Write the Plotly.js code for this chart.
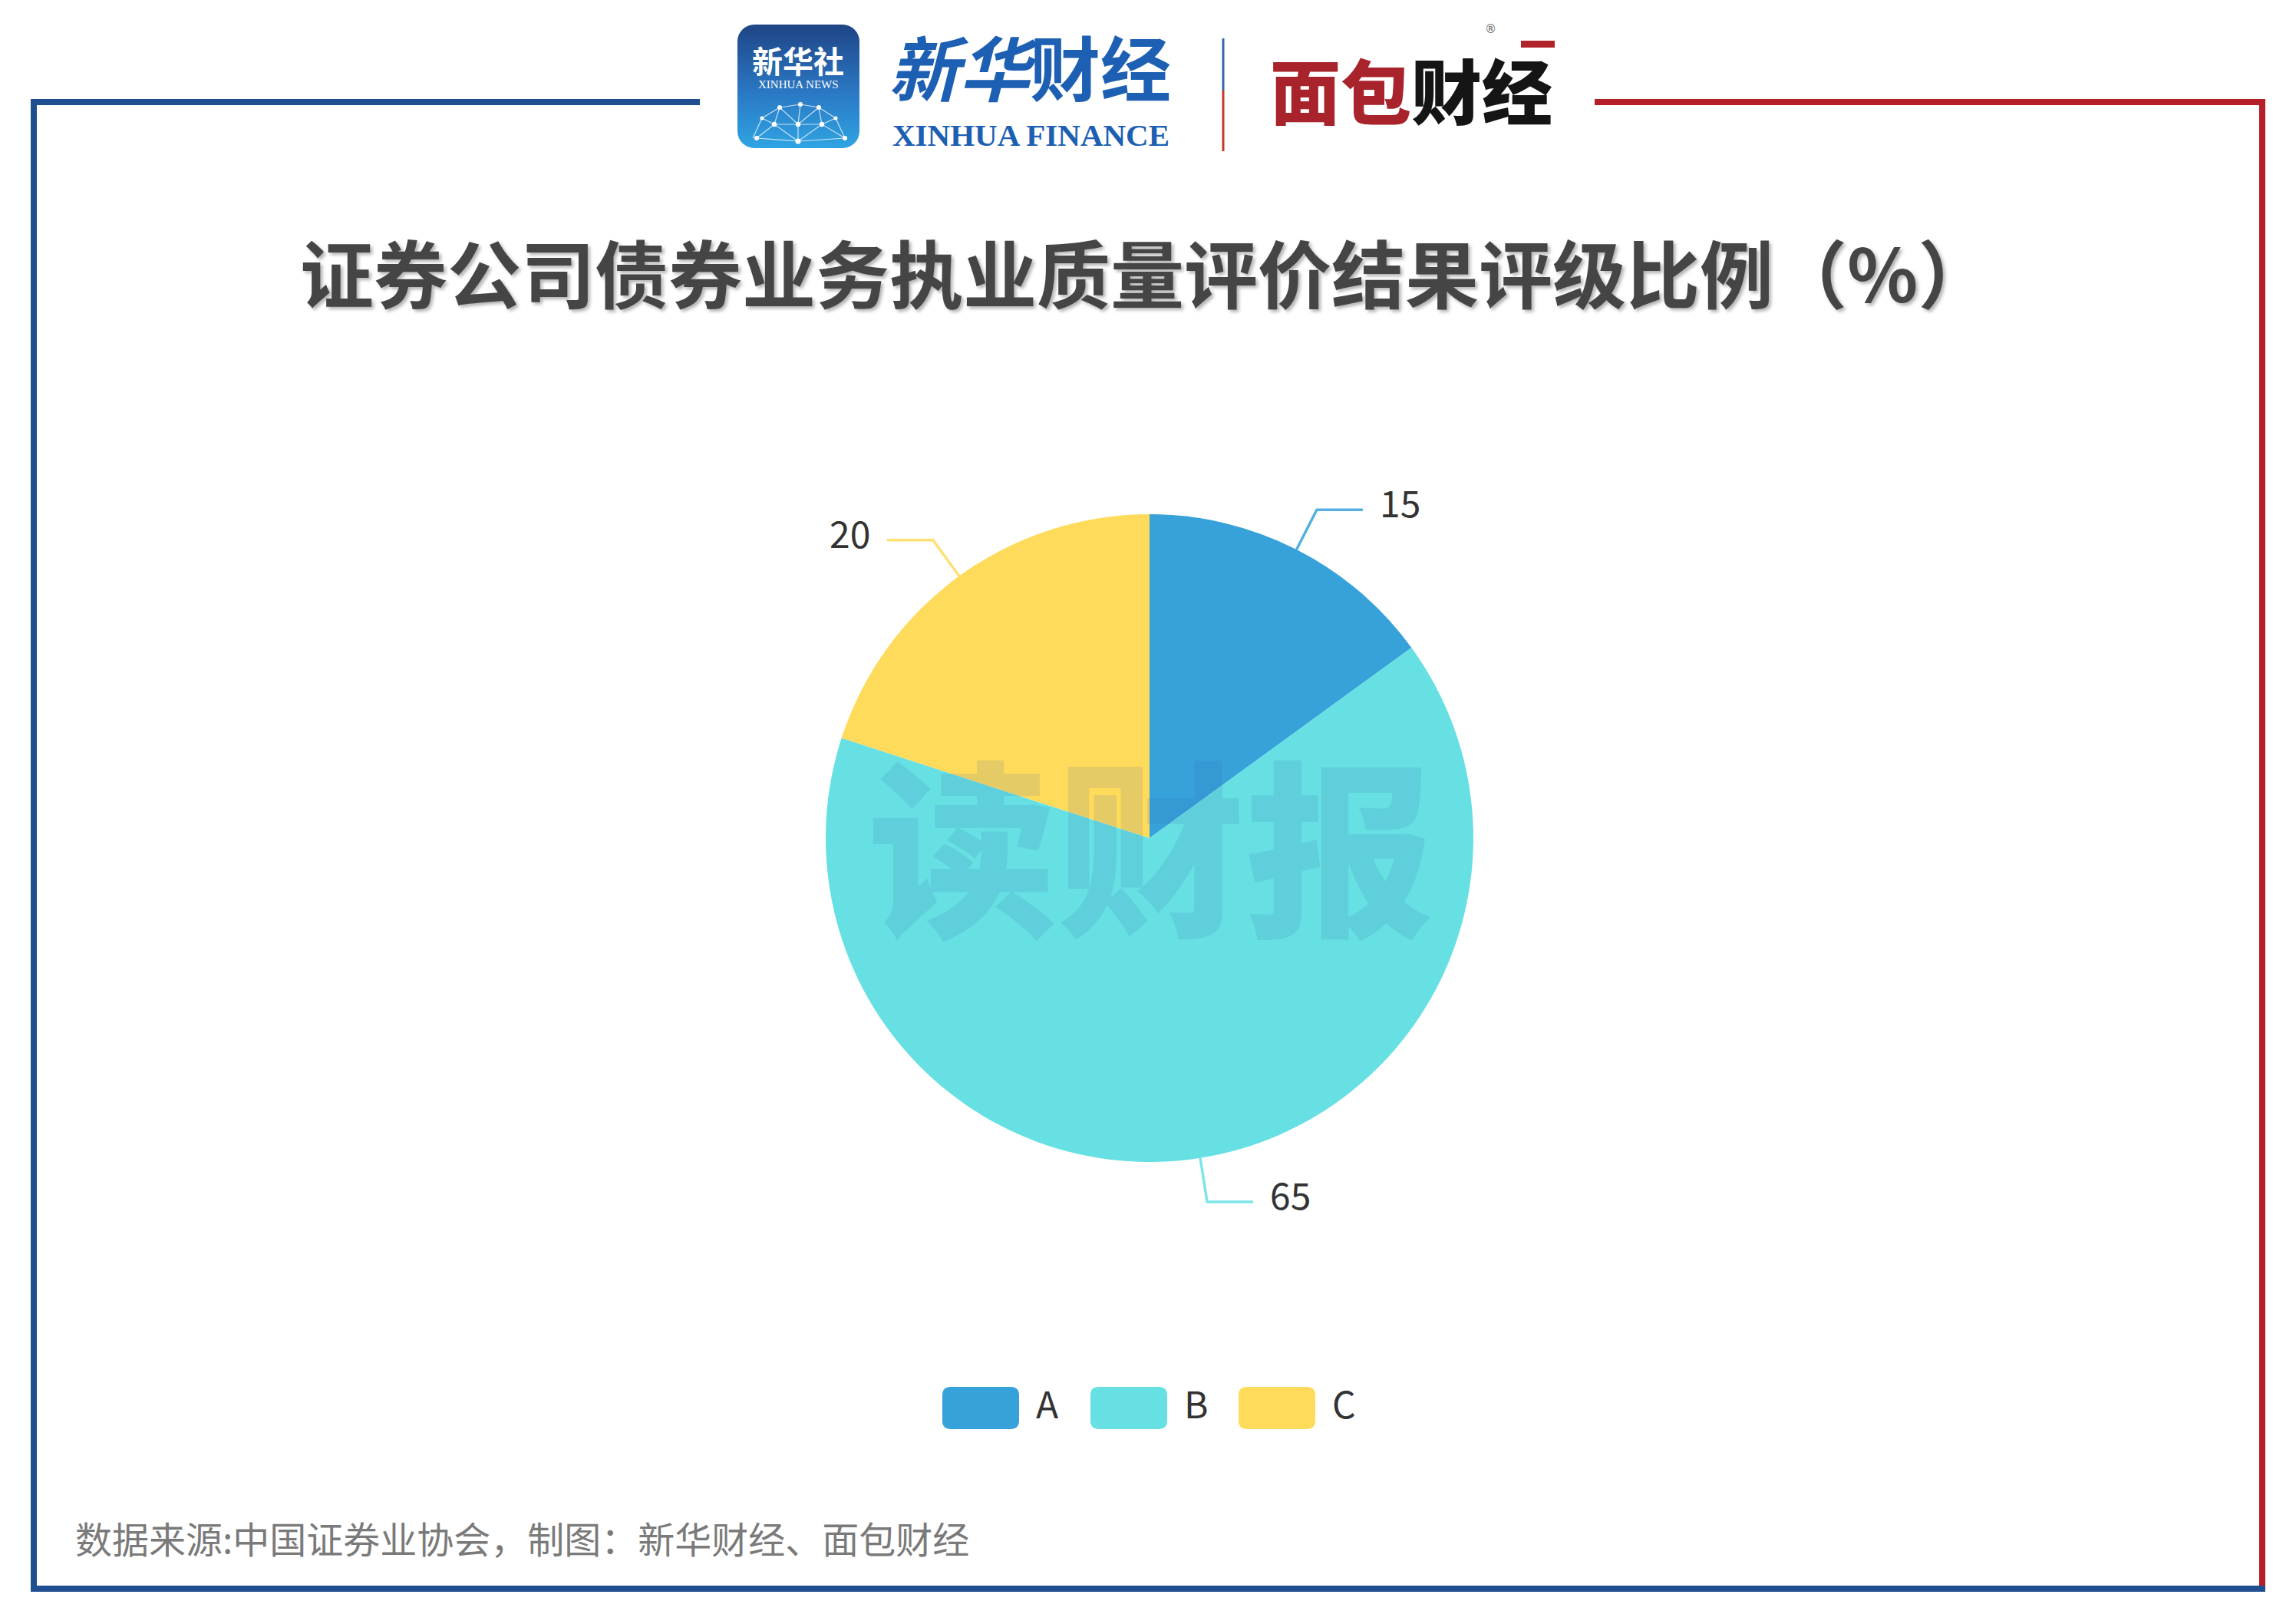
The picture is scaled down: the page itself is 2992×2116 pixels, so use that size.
<!DOCTYPE html>
<html><head><meta charset="utf-8">
<script src="https://cdn.plot.ly/plotly-3.0.1.min.js"></script>
<style>html,body{margin:0;padding:0;background:#fff}#chart{width:2992px;height:2116px}</style>
</head><body><div id="chart"></div>
<script>
// ---- data ----
const categories = ['A', 'B', 'C'];
const values = [15, 65, 20];
const valueLabels = ['15', '65', '20'];
const colors = ['#37A2DA', '#67E0E3', '#FFDB5C'];
const titleText = '证券公司债券业务执业质量评价结果评级比例（%）';
const sourceText = '数据来源:中国证券业协会，制图：新华财经、面包财经';
const watermarkText = '读财报';

// ---- layout geometry (pixels) ----
const W = 2992, H = 2116;
const CX = 1498, CY = 1092, R = 422;
const L1 = 58, L2 = 60, GAP = 20;
const BLUE = '#1f4f91', RED = '#b41f28';
const CJK = '"Noto Sans CJK SC", "Noto Sans", sans-serif';

const total = values.reduce((a, b) => a + b, 0);

const traces = [];
traces.push({
  type: 'pie',
  labels: categories,
  values: values,
  sort: false,
  direction: 'clockwise',
  rotation: 0,
  textposition: 'none',
  textinfo: 'none',
  hoverinfo: 'skip',
  showlegend: false,
  marker: { colors: colors, line: { width: 0 } },
  domain: {
    x: [(CX - R) / W, (CX + R) / W],
    y: [(H - CY - R) / H, (H - CY + R) / H]
  }
});

const annotations = [];
const shapes = [];

// leader lines + value labels, derived from data
let cum = 0;
values.forEach((v, i) => {
  const th = 2 * Math.PI * (cum + v / 2) / total;
  cum += v;
  const sx = Math.sin(th), cy = -Math.cos(th);
  const p0 = [CX + R * sx, CY + R * cy];
  const p1 = [CX + (R + L1) * sx, CY + (R + L1) * cy];
  const s = sx >= 0 ? 1 : -1;
  const p2 = [p1[0] + s * L2, p1[1]];
  traces.push({
    type: 'scatter', mode: 'lines', x: [p0[0], p1[0], p2[0]], y: [p0[1], p1[1], p2[1]],
    line: { color: colors[i], width: 3.5 }, opacity: 0.85, hoverinfo: 'skip', showlegend: false,
    xaxis: 'x', yaxis: 'y'
  });
  annotations.push({
    xref: 'x', yref: 'y', x: p2[0] + s * GAP, y: p1[1] - 11,
    xanchor: s > 0 ? 'left' : 'right', yanchor: 'middle', showarrow: false,
    text: valueLabels[i], font: { family: CJK, size: 48, color: '#333' }
  });
});

// legend (custom, rounded rects)
function rr(x0, y0, w, h, r) {
  return `M${x0 + r},${y0} L${x0 + w - r},${y0} Q${x0 + w},${y0} ${x0 + w},${y0 + r} L${x0 + w},${y0 + h - r} Q${x0 + w},${y0 + h} ${x0 + w - r},${y0 + h} L${x0 + r},${y0 + h} Q${x0},${y0 + h} ${x0},${y0 + h - r} L${x0},${y0 + r} Q${x0},${y0} ${x0 + r},${y0} Z`;
}
const LEG_X = 1228, LEG_STEP = 193, LEG_Y = 1807, LEG_W = 100, LEG_H = 55;
categories.forEach((c, i) => {
  const x0 = LEG_X + i * LEG_STEP;
  shapes.push({ type: 'path', xref: 'x', yref: 'y', path: rr(x0, LEG_Y, LEG_W, LEG_H, 11),
    fillcolor: colors[i], line: { width: 0 } });
  annotations.push({ xref: 'x', yref: 'y', x: x0 + LEG_W + 20, y: LEG_Y + LEG_H / 2 - 8, xanchor: 'left', yanchor: 'middle',
    showarrow: false, text: c, font: { family: CJK, size: 48, color: '#333' } });
});

// frame
shapes.push({ type: 'line', xref: 'x', yref: 'y', x0: 40, x1: 912, y0: 133, y1: 133, line: { color: BLUE, width: 8 } });
shapes.push({ type: 'line', xref: 'x', yref: 'y', x0: 44, x1: 44, y0: 129, y1: 2074, line: { color: BLUE, width: 8 } });
shapes.push({ type: 'line', xref: 'x', yref: 'y', x0: 2078, x1: 2952, y0: 133, y1: 133, line: { color: RED, width: 8 } });
shapes.push({ type: 'line', xref: 'x', yref: 'y', x0: 2948, x1: 2948, y0: 129, y1: 2074, line: { color: RED, width: 8 } });
shapes.push({ type: 'line', xref: 'x', yref: 'y', x0: 40, x1: 2952, y0: 2070, y1: 2070, line: { color: BLUE, width: 8 } });

// header separator
shapes.push({ type: 'line', xref: 'x', yref: 'y', x0: 1594, x1: 1594, y0: 50, y1: 118, line: { color: '#3a66a8', width: 3 } });
shapes.push({ type: 'line', xref: 'x', yref: 'y', x0: 1594, x1: 1594, y0: 118, y1: 197, line: { color: '#c0392b', width: 3 } });
// red accent bar on 面包财经 logo
shapes.push({ type: 'rect', xref: 'x', yref: 'y', x0: 1982, x1: 2026, y0: 53, y1: 62, fillcolor: '#b0232a', line: { width: 0 } });

// Xinhua news logo background (gradient + network) as inline svg
const svg = `<svg xmlns='http://www.w3.org/2000/svg' width='159' height='161' viewBox='0 0 159 161'>
<defs><linearGradient id='g' x1='0' y1='0' x2='0' y2='1'><stop offset='0' stop-color='#1f4585'/><stop offset='0.55' stop-color='#2a78c4'/><stop offset='1' stop-color='#2fa4e2'/></linearGradient></defs>
<rect width='159' height='161' rx='22' ry='22' fill='url(#g)'/>
<g stroke='rgba(255,255,255,0.75)' stroke-width='1.2' fill='none'>
<path d='M55,108 L82,104 L106,108 L128,122 L140,148 M55,108 L32,122 L20,148 M55,108 L48,130 L25,148 M82,104 L79,130 L79,152 M106,108 L110,130 L140,148 M48,130 L79,130 L110,130 M55,108 L79,130 L106,108 M48,130 L79,152 L110,130 M25,148 L48,130 M32,122 L48,130 M128,122 L110,130 M79,152 L25,148 M79,152 L140,148'/>
</g>
<g fill='#ffffff'>
<circle cx='55' cy='108' r='3'/><circle cx='82' cy='104' r='3'/><circle cx='106' cy='108' r='3'/>
<circle cx='32' cy='122' r='2.5'/><circle cx='128' cy='122' r='2.5'/>
<circle cx='48' cy='130' r='3.2'/><circle cx='79' cy='130' r='3.2'/><circle cx='110' cy='130' r='3.2'/>
<circle cx='25' cy='148' r='3'/><circle cx='79' cy='152' r='3.5'/><circle cx='140' cy='148' r='3'/>
</g></svg>`;
const images = [{
  source: 'data:image/svg+xml;charset=utf-8,' + encodeURIComponent(svg),
  xref: 'paper', yref: 'paper', x: 961 / W, y: 1 - 32 / H, sizex: 159 / W, sizey: 161 / H,
  xanchor: 'left', yanchor: 'top', sizing: 'stretch', layer: 'above'
}];

// header texts
annotations.push({ xref: 'x', yref: 'y', x: 1040, y: 78, showarrow: false, xanchor: 'center', yanchor: 'middle',
  text: '新华社', font: { family: CJK, size: 40, color: '#ffffff', weight: 700 } });
annotations.push({ xref: 'x', yref: 'y', x: 1040, y: 110, showarrow: false, xanchor: 'center', yanchor: 'middle',
  text: 'XINHUA NEWS', font: { family: '"Liberation Serif", serif', size: 15, color: '#ffffff' } });
annotations.push({ xref: 'x', yref: 'y', x: 1342, y: 84, showarrow: false, xanchor: 'center', yanchor: 'middle',
  text: '<i>新华</i>财经', font: { family: CJK, size: 92, color: '#1d5fb3', weight: 700 } });
annotations.push({ xref: 'x', yref: 'y', x: 1343, y: 176, showarrow: false, xanchor: 'center', yanchor: 'middle',
  text: 'XINHUA FINANCE', font: { family: '"Liberation Serif", serif', size: 41, color: '#1d5fb3', weight: 700 } });
annotations.push({ xref: 'x', yref: 'y', x: 1839, y: 114, height: 112, showarrow: false, xanchor: 'center', yanchor: 'middle',
  text: '<span style="color:#a8232b">面包</span><span style="color:#151515">财经</span>',
  font: { family: CJK, size: 92, weight: 900 } });
annotations.push({ xref: 'x', yref: 'y', x: 1942, y: 38, showarrow: false, xanchor: 'center', yanchor: 'middle',
  text: '®', font: { family: '"DejaVu Sans", sans-serif', size: 15, color: '#666' } });

// title
annotations.push({ xref: 'x', yref: 'y', x: 1493, y: 352, showarrow: false, xanchor: 'center', yanchor: 'middle',
  text: titleText, font: { family: CJK, size: 96, color: '#454545', weight: 700, shadow: '3px 3px 4px rgba(0,0,0,0.3)' } });

// watermark
annotations.push({ xref: 'x', yref: 'y', x: 1500, y: 1094, showarrow: false, xanchor: 'center', yanchor: 'middle',
  text: watermarkText, font: { family: CJK, size: 246, color: 'rgba(40,90,170,0.12)', weight: 900 } });

// footer
annotations.push({ xref: 'x', yref: 'y', x: 96, y: 2003, showarrow: false, xanchor: 'left', yanchor: 'middle',
  text: sourceText, font: { family: CJK, size: 48, color: '#7a7a7a' } });

const layout = {
  width: W, height: H,
  margin: { l: 0, r: 0, t: 0, b: 0, pad: 0 },
  paper_bgcolor: '#ffffff', plot_bgcolor: 'rgba(0,0,0,0)',
  showlegend: false,
  xaxis: { range: [0, W], visible: false, fixedrange: true, domain: [0, 1] },
  yaxis: { range: [H, 0], visible: false, fixedrange: true, domain: [0, 1] },
  shapes: shapes, annotations: annotations, images: images
};

Plotly.newPlot('chart', traces, layout, { staticPlot: true, displayModeBar: false });
</script></body></html>
